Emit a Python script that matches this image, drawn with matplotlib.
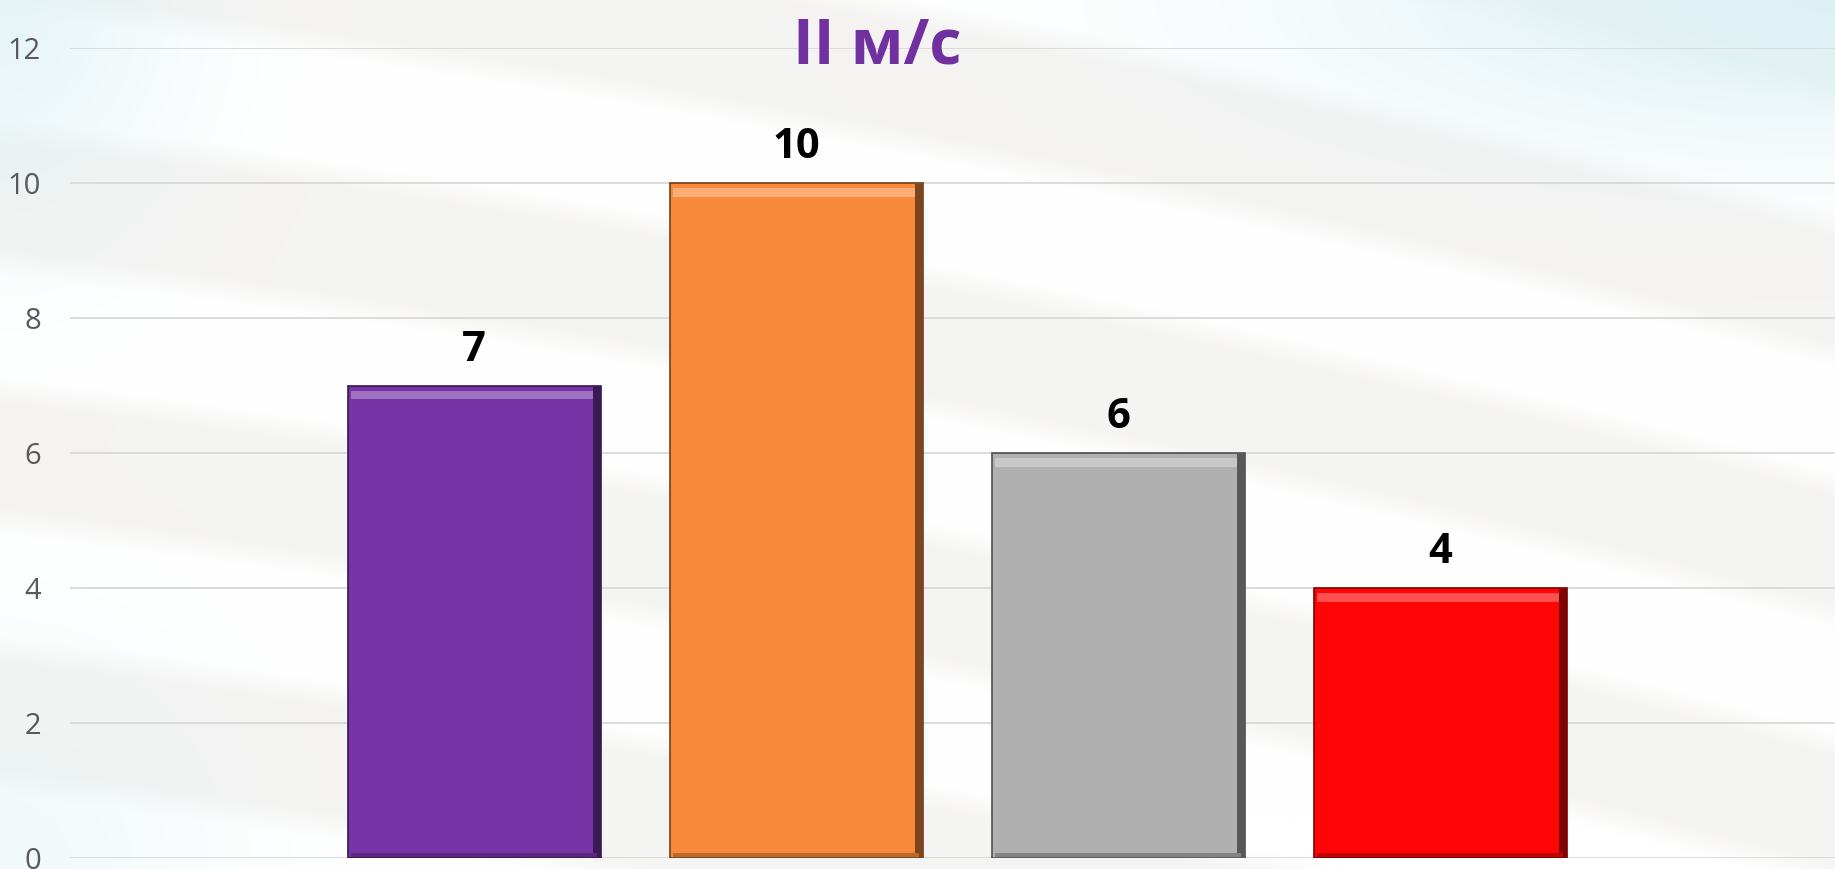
import matplotlib.pyplot as plt
import numpy as np
from matplotlib.colors import to_rgb

# data
categories = ['1', '2', '3', '4']
values = [7, 10, 6, 4]
colors = ['#7634a6', '#f98a3b', '#b0b0b0', '#ff0505']
title = 'II м/с'
yticks = [0, 2, 4, 6, 8, 10, 12]

W, H = 1835, 869
fig = plt.figure(figsize=(W / 100, H / 100), dpi=100)

# background with soft diagonal bands
bg = fig.add_axes([0, 0, 1, 1], zorder=-10)
yy, xx = np.mgrid[0:H, 0:W]
band = 0.5 + 0.5 * np.sin(2 * np.pi * (yy - 0.12 * xx - 0.00004 * xx ** 2) / 260.0)
band = np.clip((band - 0.35) * 3, 0, 1)
white = np.array([1.0, 1.0, 1.0])
grey = np.array([0.96, 0.957, 0.95])
img = grey + band[..., None] * (white - grey)
cyan = np.array([0.87, 0.945, 0.96])
tint = (np.exp(-((xx - W) ** 2 / (2 * 350 ** 2) + yy ** 2 / (2 * 100 ** 2)))
        + 0.7 * np.exp(-(xx ** 2 / (2 * 120 ** 2) + yy ** 2 / (2 * 150 ** 2)))
        + 0.4 * np.exp(-(xx ** 2 / (2 * 150 ** 2) + (yy - H) ** 2 / (2 * 150 ** 2))))
tint = np.clip(tint, 0, 1)[..., None]
img = img * (1 - tint) + cyan * tint
bg.imshow(img, aspect='auto', extent=[0, 1, 0, 1])
bg.axis('off')

ax = fig.add_axes([70 / W, 11 / H, 1 - 70 / W, (858 - 48) / H])
ax.patch.set_alpha(0)
x = np.arange(len(values))
bars = ax.bar(x, values, width=0.786, color=colors, zorder=3,
              edgecolor=[tuple(c * 0.45 for c in to_rgb(col)) for col in colors], linewidth=1.2)

# simple bevel: light strip on top, dark strips on right and bottom
for b, col in zip(bars, colors):
    rgb = np.array(to_rgb(col))
    light = np.clip(rgb + (1 - rgb) * 0.3, 0, 1)
    dark = rgb * 0.5
    ax.bar(b.get_x() + b.get_width() / 2, 0.12, width=b.get_width() * 0.97,
           bottom=b.get_height() - 0.2, color=light, zorder=4, linewidth=0)
    ax.bar(b.get_x() + b.get_width() * 0.985, b.get_height() - 0.04, width=b.get_width() * 0.03,
           bottom=0.02, color=dark, zorder=4, linewidth=0)
    ax.bar(b.get_x() + b.get_width() / 2, 0.06, width=b.get_width() * 0.97,
           bottom=0.02, color=rgb * 0.75, zorder=4, linewidth=0)
    ax.text(b.get_x() + b.get_width() / 2, b.get_height() + 0.22, str(int(b.get_height())),
            ha='center', va='bottom', fontsize=30, fontweight='bold', family='Open Sans', color='black')

ax.set_xlim(-1.255, 4.226)
ax.set_ylim(0, 12)
ax.set_yticks(yticks)
ax.set_xticks(x)
ax.set_xticklabels([])
ax.tick_params(axis='x', length=0)
ax.tick_params(axis='y', length=0, pad=21, labelsize=21, labelcolor='#595959')
for lab in ax.get_yticklabels():
    lab.set_family('Open Sans')
ax.grid(axis='y', color='#d9d9d9', linewidth=1.3, zorder=0)
for s in ax.spines.values():
    s.set_visible(False)

fig.text(877 / W, 1 - 63 / H, title, ha='center', va='baseline', fontsize=45,
         fontweight='bold', family='Open Sans', color='#7030a0')

fig.savefig('out.png', dpi=100)
